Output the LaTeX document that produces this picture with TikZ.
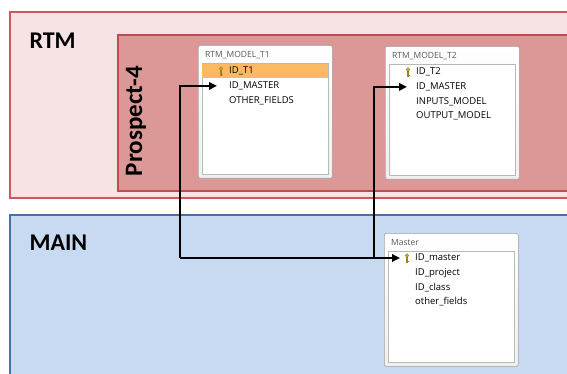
\documentclass[tikz,border=0pt]{standalone}
\usepackage{fontspec}
\setmainfont{Carlito}
\newfontfamily\tabfont{Open Sans}
\usepackage{tikz}
\usetikzlibrary{positioning,arrows.meta,calc}

\definecolor{rtmfill}{HTML}{F7E3E3}
\definecolor{rtmline}{HTML}{D2575A}
\definecolor{prosfill}{HTML}{DC9797}
\definecolor{prosline}{HTML}{BE4B4E}
\definecolor{mainfill}{HTML}{C8DAF1}
\definecolor{mainline}{HTML}{4A6FA5}
\definecolor{hilite}{HTML}{FBB964}
\definecolor{keygold}{HTML}{C9A227}

\tikzset{
  pkey/.pic={
    \draw[keygold!80!black, fill=keygold, line width=0.4pt] (0,-2.5) circle (1.8);
    \draw[keygold!80!black, line width=1.2pt] (0,-1) -- (0,5);
    \draw[keygold!80!black, line width=0.8pt] (0,3.5) -- (1.5,3.5);
  }
}

\begin{document}
\begin{tikzpicture}[
  x=1pt, y=-1pt,
  node distance=5pt,
  area/.style={draw, line width=1.6pt},
  tablebox/.style={draw=gray!75, rounded corners=2pt, line width=0.6pt,
                   top color=white, bottom color=gray!12, anchor=north west,
                   minimum width=134pt, minimum height=133pt, inner sep=0pt},
  tablepanel/.style={draw=gray!55, fill=white, line width=0.4pt, anchor=north west,
                     minimum width=126pt, minimum height=111pt, inner sep=0pt},
  tabtitle/.style={anchor=west, inner sep=0pt, text=gray!70!black,
                   font=\tabfont\fontsize{8.5}{9}\selectfont},
  row/.style={anchor=west, inner sep=0pt, text height=7pt, text depth=2.5pt,
              font=\tabfont\fontsize{9.5}{10}\selectfont},
  link/.style={-{Triangle[length=8pt,width=7.5pt]}, line width=1.8pt, black},
  header/.style={font=\bfseries\fontsize{24}{24}\selectfont}
]
  \useasboundingbox (0,0) rectangle (567,374);
  \clip (0,0) rectangle (567,374);

  % schema areas
  \draw[area, draw=rtmline, fill=rtmfill] (10,12) rectangle (590,198);
  \draw[area, draw=prosline, fill=prosfill, line width=1.2pt] (118,35) rectangle (590,191);
  \draw[area, draw=mainline, fill=mainfill] (10,215) rectangle (590,400);

  \node[header, anchor=west] (rtm) at (26,41) {RTM};
  \node[header, anchor=west] (main) at (26,243) {MAIN};
  \node[header, font=\bfseries\fontsize{25}{25}\selectfont, rotate=90] (pros) at (136,121) {Prospect-4};

  % table RTM_MODEL_T1
  \node[tablebox] (t1) at (198,45) {};
  \node[tablepanel] (t1p) at ([xshift=4pt,yshift=-18pt]t1.north west) {};
  \node[tabtitle] (t1t) at ([xshift=7pt,yshift=-10pt]t1.north west) {RTM\_MODEL\_T1};
  \fill[hilite] ([yshift=-1pt]t1p.north west) rectangle ([yshift=-15pt]t1p.north east);
  \node[row] (t1id) at ([xshift=27pt,yshift=-8pt]t1p.north west) {ID\_T1};
  \node[row, below=of t1id.south west, anchor=north west] (t1m) {ID\_MASTER};
  \node[row, below=of t1m.south west, anchor=north west] (t1o) {OTHER\_FIELDS};
  \pic at ([xshift=-8pt]t1id.west) {pkey};

  % table RTM_MODEL_T2
  \node[tablebox] (t2) at (385,46) {};
  \node[tablepanel] (t2p) at ([xshift=4pt,yshift=-18pt]t2.north west) {};
  \node[tabtitle] (t2t) at ([xshift=7pt,yshift=-10pt]t2.north west) {RTM\_MODEL\_T2};
  \node[row] (t2id) at ([xshift=27pt,yshift=-8pt]t2p.north west) {ID\_T2};
  \node[row, below=of t2id.south west, anchor=north west] (t2m) {ID\_MASTER};
  \node[row, below=of t2m.south west, anchor=north west] (t2i) {INPUTS\_MODEL};
  \node[row, below=of t2i.south west, anchor=north west] (t2o) {OUTPUT\_MODEL};
  \pic at ([xshift=-8pt]t2id.west) {pkey};

  % table Master
  \node[tablebox] (ms) at (384,233) {};
  \node[tablepanel] (msp) at ([xshift=4pt,yshift=-18pt]ms.north west) {};
  \node[tabtitle] (mst) at ([xshift=7pt,yshift=-10pt]ms.north west) {Master};
  \node[row] (mm) at ([xshift=27pt,yshift=-7pt]msp.north west) {ID\_master};
  \node[row, below=of mm.south west, anchor=north west] (mp) {ID\_project};
  \node[row, below=of mp.south west, anchor=north west] (mc) {ID\_class};
  \node[row, below=of mc.south west, anchor=north west] (mo) {other\_fields};
  \pic at ([xshift=-8pt]mm.west) {pkey};

  % foreign keys
  \coordinate (colL) at (180,0);
  \coordinate (colR) at (374,0);
  \draw[link] (mm.west -| colL) |- ([xshift=-12pt]t1m.west);
  \draw[link] (mm.west -| colR) |- ([xshift=-9pt]t2m.west);
  \draw[link] (mm.west -| colL) -- ([xshift=-15pt]mm.west);
\end{tikzpicture}
\end{document}
